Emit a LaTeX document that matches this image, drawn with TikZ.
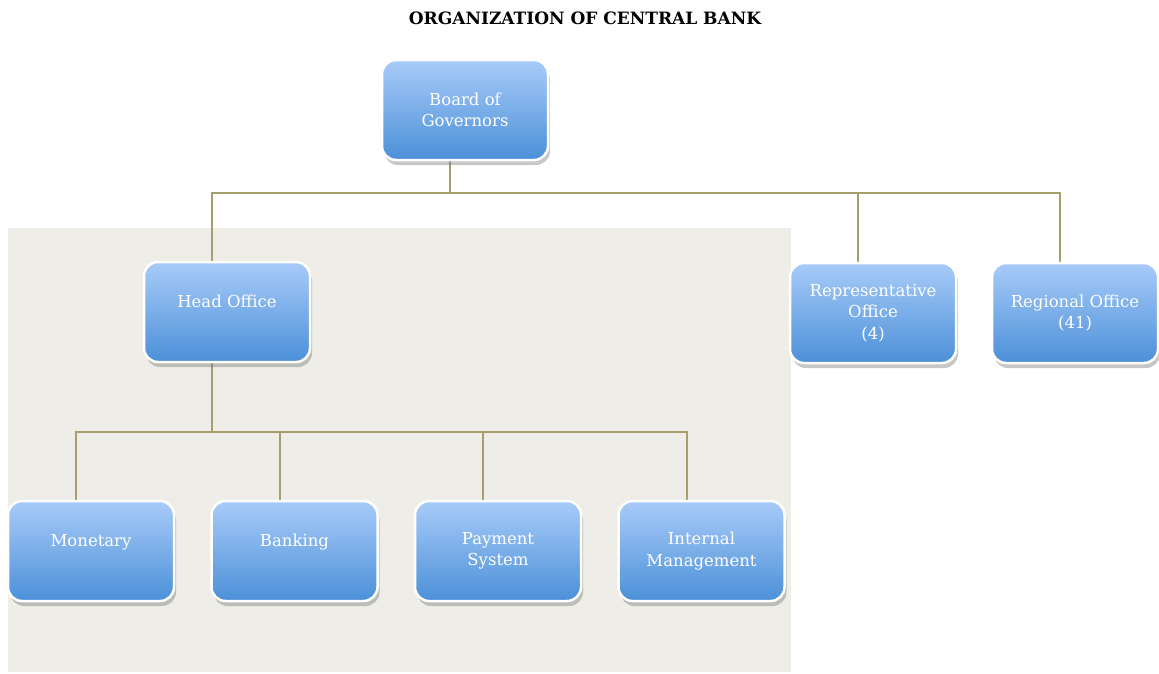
\documentclass[tikz,border=0pt]{standalone}
\usepackage{fontspec}
\setmainfont{DejaVu Serif}
\usetikzlibrary{
  backgrounds,
  calc,
  positioning,
  shadows,
}
\definecolor{boxtop}{HTML}{A8CBF9}
\definecolor{boxbottom}{HTML}{4C90D8}
\definecolor{linkline}{HTML}{A69E6B}
\definecolor{panelbg}{HTML}{EEEDE7}
\tikzset{
  link/.style={draw=linkline, line width=2pt},
}

\begin{document}
\begin{tikzpicture}[
      x=1pt, y=-1pt,
      unit/.style={rectangle, rounded corners=14pt, draw=white, line width=2.5pt,
        top color=boxtop, bottom color=boxbottom, text=white, align=center,
        minimum width=166pt, minimum height=100pt, font=\fontsize{16.5}{21.5}\selectfont,
        drop shadow={shadow xshift=2pt, shadow yshift=-5pt, fill=black!55, opacity=.4}},
      title/.style={font=\bfseries\fontsize{17}{19}\selectfont},
    ]
      \useasboundingbox (0,0) rectangle (1159,673);
      \node [title] (title) at (585,18) {ORGANIZATION OF CENTRAL BANK};
      \node [unit] (board) at (465,110) {Board of\\Governors};
      \node [unit] (head) at (227,312) {Head Office\\\mbox{}};
      \node [unit] (rep) at (873,313) {Representative\\Office\\(4)};
      \node [unit] (reg) at (1075,313) {Regional Office\\(41)};
      \node [unit] (monetary) at (91,551) {Monetary\\\mbox{}};
      \node [unit, right=35pt of monetary] (banking) {Banking\\\mbox{}};
      \node [unit, right=35pt of banking] (payment) {Payment\\System};
      \node [unit, right=35pt of payment] (internal) {Internal\\Management};
      \coordinate (bus) at (450,193);
      \coordinate (subbus) at (212,432);
      \begin{scope}[on background layer]
        \fill [panelbg] (8,228) rectangle (791,672);
        \draw [link] ([xshift=-15pt]board.south) -- (bus);
        \foreach \n in {head, rep, reg}
          \draw [link] (bus) -| ([xshift=-15pt]\n.north);
        \draw [link] ([xshift=-15pt]head.south) -- (subbus);
        \foreach \n in {monetary, banking, payment, internal}
          \draw [link] (subbus) -| ([xshift=-15pt]\n.north);
      \end{scope}
    \end{tikzpicture}
\end{document}
